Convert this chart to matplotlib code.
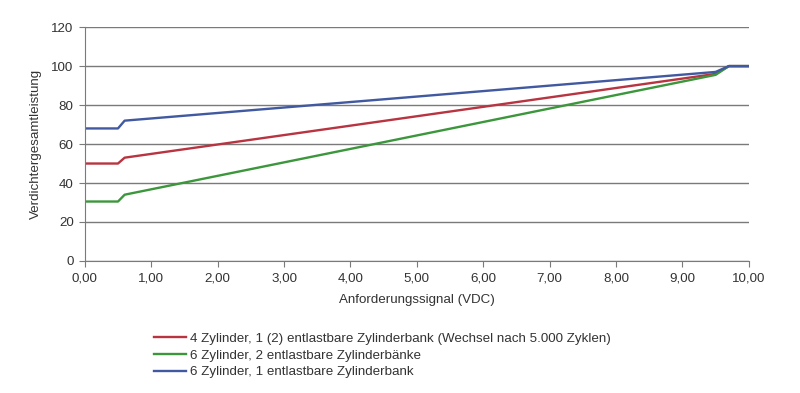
import numpy as np
import matplotlib.pyplot as plt

plt.rcParams['font.family'] = ['Liberation Sans', 'DejaVu Sans']

# signal (VDC) and compressor total power (%)
signal = [0.0, 0.5, 0.6, 9.5, 9.7, 10.0]
zyl4_1bank = [50, 50, 53, 96, 100, 100]
zyl6_2bank = [30.5, 30.5, 34, 95.5, 100, 100]
zyl6_1bank = [68, 68, 72, 97, 100, 100]

labels = ['4 Zylinder, 1 (2) entlastbare Zylinderbank (Wechsel nach 5.000 Zyklen)',
          '6 Zylinder, 2 entlastbare Zylinderbänke',
          '6 Zylinder, 1 entlastbare Zylinderbank']
colors = ['#b73440', '#3c963c', '#4159a0']

fs = 9.6
fig = plt.figure(figsize=(8, 3.93), dpi=100)
ax = fig.add_axes([0.106, 0.336, 0.83, 0.595])

for ys, lab, c in zip([zyl4_1bank, zyl6_2bank, zyl6_1bank], labels, colors):
    ax.plot(signal, ys, color=c, lw=1.7, label=lab)

ax.set_xlim(0, 10)
ax.set_ylim(0, 120)
ax.set_xticks(np.arange(0, 11, 1))
ax.set_xticklabels([f'{v:.2f}'.replace('.', ',') for v in range(11)])
ax.set_yticks(np.arange(0, 121, 20))
ax.yaxis.grid(True, color='#7a7a7a', lw=1)
ax.set_axisbelow(True)
for s in ['top', 'right']:
    ax.spines[s].set_visible(False)
for s in ['left', 'bottom']:
    ax.spines[s].set_color('#7a7a7a')
ax.tick_params(colors='#7a7a7a', labelcolor='#333333', labelsize=fs, length=4, pad=4)
ax.set_xlabel('Anforderungssignal (VDC)', fontsize=fs, color='#333333', labelpad=7)
ax.set_ylabel('Verdichtergesamtleistung', fontsize=fs, color='#333333', labelpad=7)

fig.legend(loc='upper left', bbox_to_anchor=(0.177, 0.184), frameon=False,
           fontsize=fs, handlelength=2.45, handletextpad=0.3, labelspacing=0.32,
           labelcolor='#333333')

fig.savefig('out.png', dpi=100)
